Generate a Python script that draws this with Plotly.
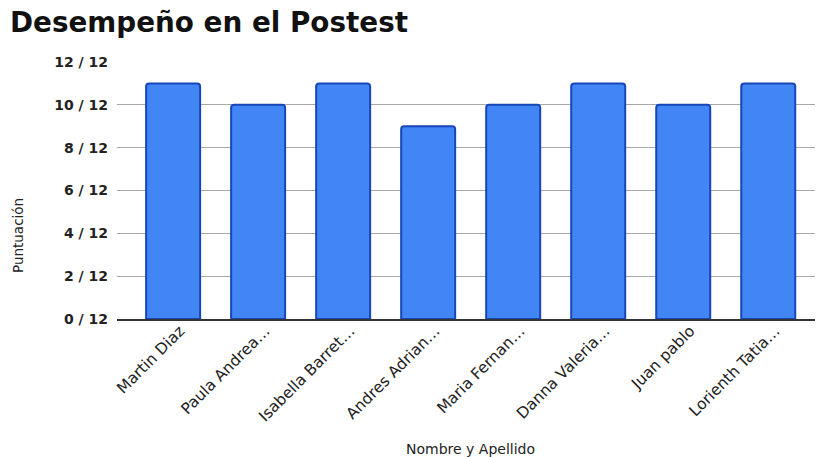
import plotly.graph_objects as go

names = ["Martin Diaz", "Paula Andrea…", "Isabella Barret…", "Andres Adrian…",
         "Maria Fernan…", "Danna Valeria…", "Juan pablo", "Lorienth Tatia…"]
scores = [11, 10, 11, 9, 10, 11, 10, 11]
tick_vals = [0, 2, 4, 6, 8, 10, 12]
tick_text = ["0 / 12", "2 / 12", "4 / 12", "6 / 12", "8 / 12", "10 / 12", "12 / 12"]

W, H = 817, 457
L, R, T, B = 117, 2, 62, 138
FONT = "DejaVu Sans, Liberation Sans, Arial, sans-serif"

fig = go.Figure(go.Bar(
    x=list(range(len(names))), y=scores,
    width=0.635,
    marker=dict(color="#4285F4", line=dict(color="#1646b8", width=2), cornerradius=3),
))

pw, ph = W - L - R, H - T - B

fig.update_layout(
    width=W, height=H,
    margin=dict(l=L, r=R, t=T, b=B),
    paper_bgcolor="white", plot_bgcolor="white",
    showlegend=False,
    font=dict(family=FONT, color="#222"),
    title=dict(text="<b>Desempeño en el Postest</b>", x=10 / W, xanchor="left",
               y=1 - 22 / H, yanchor="middle",
               font=dict(size=27.8, color="#111", family=FONT)),
    xaxis=dict(
        range=[-0.66, 7.55],
        tickmode="array", tickvals=list(range(len(names))), ticktext=names,
        tickangle=-45, tickfont=dict(size=15.5, color="#222"),
        ticklabelshift=7, ticklabelstandoff=-5,
        showgrid=False, showline=True, linecolor="#333", linewidth=1.5,
        zeroline=False, ticks="",
    ),
    yaxis=dict(
        range=[0, 12],
        tickmode="array", tickvals=tick_vals, ticktext=["<b>%s</b>" % t for t in tick_text],
        tickfont=dict(size=14, color="#222"),
        showgrid=True, gridcolor="#a8a8a8", gridwidth=1,
        zeroline=False, showline=False, ticks="", ticklabelstandoff=8,
    ),
    annotations=[
        dict(text="Puntuación", x=(18 - L) / pw, xref="paper",
             y=(H - B - 236) / ph, yref="paper",
             showarrow=False, textangle=-90, font=dict(size=13.5, color="#222"),
             xanchor="center", yanchor="middle"),
        dict(text="Nombre y Apellido", x=(470 - L) / pw, xref="paper",
             y=(H - B - 449) / ph, yref="paper",
             showarrow=False, font=dict(size=14, color="#222"),
             xanchor="center", yanchor="middle"),
    ],
)

fig.write_html("out.html", config={"displayModeBar": False},
               post_script="document.body.style.margin='0';")
